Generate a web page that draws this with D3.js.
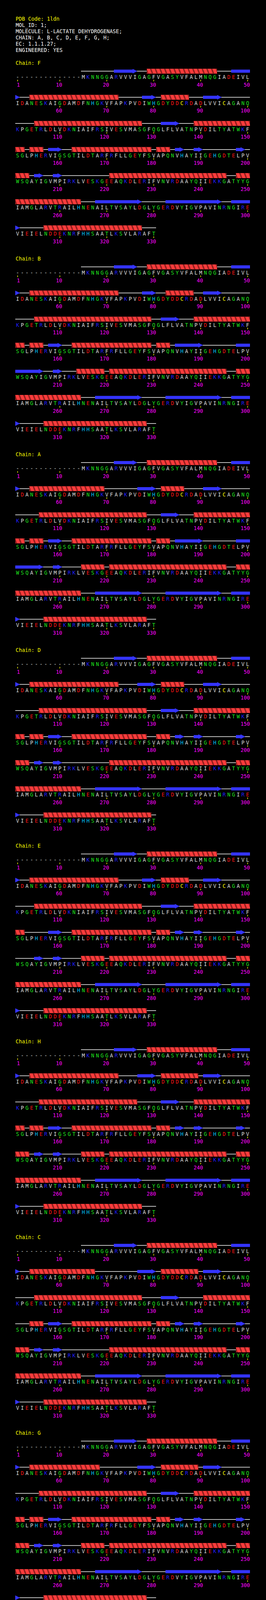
<!DOCTYPE html>
<html lang="en">
<head>
<meta charset="utf-8">
<script src="https://d3js.org/d3.v7.min.js"></script>
<style>
body { margin: 0; background: #000; }
svg { display: block; background: #000; }
text { font-family: "DejaVu Sans Mono", "Liberation Mono", monospace; font-size: 13.3px; }
</style>
</head>
<body>
<div id="chart"></div>
<script>

// header text
var headerLines = [
  "PDB Code: 1ldn",
  "MOL_ID: 1;",
  "MOLECULE: L-LACTATE DEHYDROGENASE;",
  "CHAIN: A, B, C, D, E, F, G, H;",
  "EC: 1.1.1.27;",
  "ENGINEERED: YES"
];

// chains in the order they are listed on the page
var chainIds = ["F", "B", "A", "D", "E", "H", "C", "G"];

// sequence, 50 per row ('-' = not in structure)
var seqRows = [
  "--------------MKNNGGARVVVIGAGFVGASYVFALMNQGIADEIVL",
  "IDANESKAIGDAMDFNHGKVFAPKPVDIWHGDYDDCRDADLVVICAGANQ",
  "KPGETRLDLVDKNIAIFRSIVESVMASGFQGLFLVATNPVDILTYATWKF",
  "SGLPHERVIGSGTILDTARFRFLLGEYFSVAPQNVHAYIIGEHGDTELPV",
  "WSQAYIGVMPIRKLVESKGEEAQKDLERIFVNVRDAAYQIIEKKGATYYG",
  "IAMGLARVTRAILHNENAILTVSAYLDGLYGERDVYIGVPAVINRNGIRE",
  "VIEIELNDDEKNRFHHSAATLKSVLARAFT"
];

// residue numbers that get a tick + label
var numLabels = [1, 10, 20, 30, 40, 50, 60, 70, 80, 90, 100, 110, 120, 130, 140, 150,
  160, 170, 180, 190, 200, 210, 220, 230, 240, 250, 260, 270, 280, 290, 300, 310, 320, 330];

// secondary structure, [first, last] residue
var helixF = [[29,43],[54,72],[82,87],[105,127],[139,152],[154,156],[163,179],[181,183],[201,203],[221,245],[248,264],[307,327]];
var strandF = [[22,26],[47,51],[78,80],[91,94],[132,135],[158,160],[185,186],[189,190],[198,199],[205,206],[209,210],[268,277],[283,294],[297,301]];

var helixB = [[29,43],[54,72],[83,88],[105,129],[139,152],[154,156],[163,179],[181,183],[214,219],[221,245],[248,264],[307,328]];
var strandB = [[22,26],[47,51],[78,80],[91,94],[132,135],[158,160],[185,190],[198,206],[209,210],[268,277],[283,294],[297,301]];

var helixA = [[29,43],[54,69],[82,86],[106,128],[139,152],[154,156],[163,179],[181,183],[215,219],[221,245],[248,264],[307,328]];
var strandA = [[22,26],[47,51],[77,80],[91,94],[132,135],[158,160],[185,190],[198,206],[209,210],[268,277],[283,294],[297,301]];

var helixD = [[29,43],[54,72],[82,86],[106,128],[139,152],[154,156],[163,178],[181,183],[201,203],[221,245],[248,264],[307,329]];
var strandD = [[22,26],[47,51],[77,80],[91,94],[132,135],[158,160],[185,186],[189,190],[198,199],[205,206],[209,210],[268,277],[283,294],[297,301]];

var helixE = [[29,43],[54,72],[82,87],[105,127],[139,152],[163,179],[181,183],[215,219],[221,245],[248,264],[307,328]];
var strandE = [[22,26],[47,51],[78,80],[91,94],[132,135],[158,160],[185,186],[189,190],[198,199],[205,206],[209,210],[268,277],[283,294],[297,301]];

var helixH = [[29,43],[54,72],[82,89],[106,126],[139,152],[154,156],[163,179],[181,183],[201,203],[215,219],[221,245],[248,264],[307,327]];
var strandH = [[22,26],[47,51],[77,80],[91,94],[132,135],[158,160],[185,186],[189,190],[198,199],[205,206],[209,210],[268,277],[283,294],[297,301]];

var helixC = [[29,43],[54,67],[82,89],[105,127],[141,150],[154,156],[163,179],[181,183],[201,203],[221,245],[248,264],[307,328]];
var strandC = [[22,26],[47,51],[77,80],[91,94],[132,135],[158,160],[185,186],[189,190],[198,199],[205,206],[209,210],[268,277],[283,294],[297,301]];

var helixG = [[29,43],[54,68],[82,89],[106,128],[139,152],[154,156],[163,179],[181,183],[201,203],[215,219],[221,245],[248,264],[307,328]];
var strandG = [[22,26],[47,51],[77,80],[91,94],[132,135],[158,160],[185,186],[189,190],[198,199],[205,206],[209,210],[268,277],[283,294],[297,301]];

var helices = [helixF, helixB, helixA, helixD, helixE, helixH, helixC, helixG];
var strands = [strandF, strandB, strandA, strandD, strandE, strandH, strandC, strandG];

var W = 680, H = 4168;
var perRow = 50;

var svg = d3.select("#chart").append("svg")
  .attr("width", W)
  .attr("height", H);

// column edges
var x = d3.scaleLinear().domain([0, perRow]).range([39, 639]);
// chain title centre lines
var yChain = d3.scaleLinear().domain([0, 1]).range([160.7, 661.7]);
// sequence row centre, relative to the chain title
var yRow = d3.scaleLinear().domain([0, 1]).range([36.5, 103.35]);

var capHalf = 4.85;

function resColour(c) {
  if ("AVILMFP".indexOf(c) >= 0) return "#dcdcdc";
  if ("GSTNQYW".indexOf(c) >= 0) return "#1ee61e";
  if (c == "H") return "#00c4ff";
  if ("KR".indexOf(c) >= 0) return "#1e1eff";
  if ("DE".indexOf(c) >= 0) return "#ff1414";
  if (c == "C") return "#ffff00";
  return "#dcdcdc";
}

// header
svg.selectAll("text.hdr")
  .data(headerLines)
  .enter().append("text")
  .attr("class", "hdr")
  .attr("x", 40)
  .attr("y", function(d, i) { return 48.3 + 16 * i + capHalf; })
  .attr("fill", function(d, i) { return i == 0 ? "#ffff00" : "#ffffff"; })
  .text(function(d) { return d; });

var seqLen = seqRows.reduce(function(a, s) { return a + s.length; }, 0);
var firstRes = seqRows[0].lastIndexOf("-") + 2;

var clipCount = 0;

chainIds.forEach(function(id, k) {
  var g = svg.append("g");
  var top = yChain(k);

  g.append("text")
    .attr("x", 40)
    .attr("y", top + capHalf)
    .attr("fill", "#ffff00")
    .text("Chain: " + id);

  seqRows.forEach(function(row, r) {
    var rowStart = r * perRow + 1;
    var rowEnd = rowStart + row.length - 1;
    var seqY = top + yRow(r);
    var ssY = seqY - 15;
    var rg = g.append("g");

    // backbone line
    var lineFrom = Math.max(rowStart, firstRes);
    if (lineFrom <= rowEnd) {
      rg.append("line")
        .attr("x1", x(lineFrom - rowStart))
        .attr("x2", x(rowEnd - rowStart + 1))
        .attr("y1", ssY).attr("y2", ssY)
        .attr("stroke", "#ffffff")
        .attr("stroke-width", 1.5);
    }

    // helices
    helices[k].forEach(function(h) {
      var s = Math.max(h[0], rowStart), e = Math.min(h[1], rowEnd);
      if (s > e) return;
      var x0 = x(s - rowStart), x1 = x(e - rowStart + 1);
      var y0 = ssY - 6.5, y1 = ssY + 6.5;
      var cid = "hc" + (clipCount++);
      rg.append("clipPath").attr("id", cid)
        .append("rect")
        .attr("x", x0).attr("y", y0)
        .attr("width", x1 - x0).attr("height", y1 - y0);
      var hg = rg.append("g").attr("clip-path", "url(#" + cid + ")");
      hg.append("rect")
        .attr("x", x0).attr("y", y0)
        .attr("width", x1 - x0).attr("height", y1 - y0)
        .attr("fill", "#ff3c3c");
      hg.selectAll("polygon")
        .data(d3.range(s - rowStart - 1, e - rowStart + 1))
        .enter().append("polygon")
        .attr("points", function(c) {
          var a = x(c) + 8;
          return [[a, y0], [a + 4, y0], [a + 9, y1], [a + 5, y1]].join(" ");
        })
        .attr("fill", "#93201f");
    });

    // strands
    strands[k].forEach(function(st) {
      var s = Math.max(st[0], rowStart), e = Math.min(st[1], rowEnd);
      if (s > e) return;
      var hasHead = st[1] <= rowEnd;
      var x0 = x(s - rowStart);
      var bodyEnd = hasHead ? x(e - rowStart) : x(e - rowStart + 1);
      if (bodyEnd > x0) {
        rg.append("rect")
          .attr("x", x0).attr("y", ssY - 4)
          .attr("width", bodyEnd - x0).attr("height", 8)
          .attr("fill", "#3434ff");
      }
      if (hasHead) {
        var hx = x(e - rowStart);
        rg.append("polygon")
          .attr("points", [[hx, ssY - 6], [hx + 12, ssY], [hx, ssY + 6]].join(" "))
          .attr("fill", "#3434ff");
      }
    });

    // residues
    rg.selectAll("text.res")
      .data(row.split(""))
      .enter().append("text")
      .attr("class", "res")
      .attr("x", function(d, i) { return x(i + 0.5); })
      .attr("y", seqY + capHalf)
      .attr("text-anchor", "middle")
      .attr("fill", function(d) { return resColour(d); })
      .text(function(d) { return d; });

    // ticks and numbers
    var labs = numLabels.filter(function(n) { return n >= rowStart && n <= rowEnd; });
    rg.selectAll("line.tick")
      .data(labs)
      .enter().append("line")
      .attr("class", "tick")
      .attr("x1", function(n) { return x(n - rowStart + 0.5); })
      .attr("x2", function(n) { return x(n - rowStart + 0.5); })
      .attr("y1", seqY + 7).attr("y2", seqY + 11)
      .attr("stroke", "#ffff00")
      .attr("stroke-width", 1.5);
    rg.selectAll("text.num")
      .data(labs)
      .enter().append("text")
      .attr("class", "num")
      .attr("x", function(n) { return x(n - rowStart + 1); })
      .attr("y", seqY + 19.5 + capHalf)
      .attr("text-anchor", "end")
      .attr("fill", "#ff00ff")
      .text(function(n) { return n; });
  });
});

</script>
</body>
</html>
